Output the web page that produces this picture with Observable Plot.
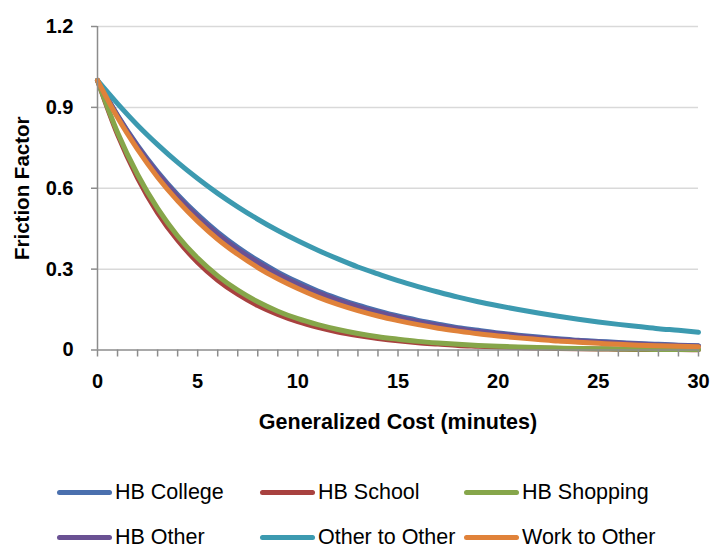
<!DOCTYPE html>
<html>
<head>
<meta charset="utf-8">
<script src="https://cdn.jsdelivr.net/npm/d3@7"></script>
<script src="https://cdn.jsdelivr.net/npm/@observablehq/plot@0.6"></script>
<style>
  html, body { margin: 0; padding: 0; background: #fff; overflow: hidden; }
  #wrap { width: 712px; position: relative; }
  #legend { position: relative; width: 712px; height: 98px; font-family: "Liberation Sans Narrow", "Arial Narrow", "Liberation Sans", Arial, sans-serif; font-size: 21.5px; color: #000; }
  .item { position: absolute; display: flex; align-items: center; height: 20px; line-height: 20px; white-space: nowrap; }
  .sw { width: 55px; height: 5px; border-radius: 3px; margin-right: 3px; flex: none; }
  .lbl { display: inline-block; }
</style>
</head>
<body>
<div id="wrap">
  <div id="chart"></div>
  <div id="legend"></div>
</div>
<script>
// Generalized cost (minutes)
const minutes = [0,1,2,3,4,5,6,7,8,9,10,11,12,13,14,15,16,17,18,19,20,21,22,23,24,25,26,27,28,29,30];

const seriesNames = ["HB College", "HB School", "HB Shopping", "HB Other", "Other to Other", "Work to Other"];
const seriesColors = ["#4a70ae", "#a8413f", "#86a64a", "#6a5193", "#3c9ab0", "#e0823a"];

const hbCollege = [1.000,0.871,0.759,0.661,0.576,0.502,0.437,0.381,0.332,0.289,0.252,0.219,0.191,0.166,0.145,0.126,0.110,0.096,0.083,0.073,0.063,0.055,0.048,0.042,0.036,0.032,0.028,0.024,0.021,0.018,0.016];
const hbSchool = [1.000,0.799,0.638,0.509,0.407,0.325,0.259,0.207,0.165,0.132,0.105,0.084,0.067,0.054,0.043,0.034,0.027,0.022,0.017,0.014,0.011,0.009,0.007,0.006,0.005,0.004,0.003,0.002,0.002,0.002,0.001];
const hbShopping = [1.000,0.807,0.651,0.525,0.423,0.341,0.275,0.222,0.179,0.144,0.116,0.094,0.076,0.061,0.049,0.040,0.032,0.026,0.021,0.017,0.014,0.011,0.009,0.007,0.006,0.005,0.004,0.003,0.002,0.002,0.002];
const hbOther = [1.000,0.869,0.754,0.655,0.569,0.494,0.429,0.373,0.324,0.281,0.244,0.212,0.184,0.160,0.139,0.121,0.105,0.091,0.079,0.069,0.060,0.052,0.045,0.039,0.034,0.030,0.026,0.022,0.019,0.017,0.015];
const otherToOther = [1.000,0.914,0.834,0.762,0.696,0.636,0.581,0.531,0.485,0.443,0.405,0.370,0.338,0.308,0.282,0.257,0.235,0.215,0.196,0.179,0.164,0.150,0.137,0.125,0.114,0.104,0.095,0.087,0.079,0.073,0.066];
const workToOther = [1.000,0.862,0.744,0.641,0.553,0.477,0.411,0.355,0.306,0.264,0.228,0.196,0.169,0.146,0.126,0.109,0.094,0.081,0.070,0.060,0.052,0.045,0.039,0.033,0.029,0.025,0.021,0.018,0.016,0.014,0.012];

const yTicks = [0, 0.3, 0.6, 0.9, 1.2];
const yTickLabels = ["0", "0.3", "0.6", "0.9", "1.2"];
const xLabelTicks = [0, 5, 10, 15, 20, 25, 30];

const allSeries = [hbCollege, hbSchool, hbShopping, hbOther, otherToOther, workToOther];
const rows = [];
allSeries.forEach((vals, si) => {
  vals.forEach((v, i) => rows.push({series: seriesNames[si], x: minutes[i], y: v}));
});

const font = "'Liberation Sans', Arial, sans-serif";

const chart = Plot.plot({
  width: 712,
  height: 450,
  marginLeft: 97,
  marginRight: 14,
  marginTop: 26,
  marginBottom: 100.5,
  style: { fontFamily: font, background: "#fff" },
  x: { domain: [0, 30] },
  y: { domain: [0, 1.2] },
  color: { domain: seriesNames, range: seriesColors },
  marks: [
    Plot.gridY(yTicks.filter(d => d > 0), { stroke: "#d9d9d9", strokeOpacity: 1, strokeWidth: 1.5 }),
    Plot.lineY(rows, { x: "x", y: "y", z: "series", stroke: "series", strokeWidth: 5, curve: "monotone-x", strokeLinecap: "round", strokeLinejoin: "round" }),
    Plot.ruleX([0], { stroke: "#8c8c8c", strokeWidth: 1.5 }),
    Plot.ruleY([0], { stroke: "#8c8c8c", strokeWidth: 1.5 }),
    Plot.axisY(yTicks, { tickSize: 6, tickPadding: 18, stroke: "#8c8c8c", strokeWidth: 1.5, tickFormat: (d, i) => yTickLabels[i], fontSize: 20, fontWeight: "bold", fill: "#000", label: null }),
    Plot.axisX(minutes, { tickSize: 7, tickFormat: () => "", stroke: "#8c8c8c", strokeWidth: 1.5, label: null }),
    Plot.axisX(xLabelTicks, { tickSize: 0, tickPadding: 24, fontSize: 20, fontWeight: "bold", fill: "#000", label: null }),
    Plot.text(["Generalized Cost (minutes)"], { frameAnchor: "bottom", lineAnchor: "middle", dy: 72, fontSize: 21.5, fontWeight: "bold", fill: "#000" }),
    Plot.text(["Friction Factor"], { frameAnchor: "left", textAnchor: "middle", lineAnchor: "middle", dx: -75, rotate: -90, fontSize: 20.5, fontWeight: "bold", fill: "#000" })
  ]
});
document.getElementById("chart").appendChild(chart);

// Legend (HTML, below the SVG)
const legend = document.getElementById("legend");
const colLeft = [57, 260, 464];
const rowTop = [32, 77];
seriesNames.forEach((name, i) => {
  const item = document.createElement("div");
  item.className = "item";
  item.style.left = colLeft[i % 3] + "px";
  item.style.top = rowTop[Math.floor(i / 3)] + "px";
  const sw = document.createElement("span");
  sw.className = "sw";
  sw.style.background = seriesColors[i];
  const label = document.createElement("span");
  label.className = "lbl";
  label.textContent = name;
  item.appendChild(sw);
  item.appendChild(label);
  legend.appendChild(item);
});
</script>
</body>
</html>
